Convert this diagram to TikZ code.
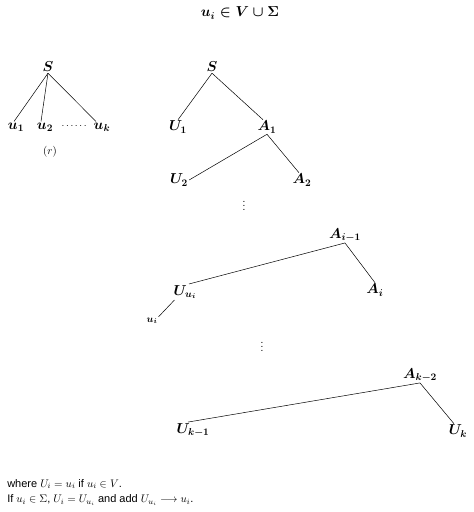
\documentclass[tikz,border=0pt]{standalone}
\usepackage{amsmath, amssymb}
\usepackage{fontspec}
\setmainfont{Liberation Sans}
\usetikzlibrary{positioning}
\tikzset{
    symnode/.style={
        inner sep=1pt,
        font=\fontsize{14}{16}\selectfont
    },
    smallnode/.style={
        inner sep=1pt,
        font=\fontsize{10}{12}\selectfont
    },
    notenode/.style={
        anchor=west,
        inner sep=0,
        font=\fontsize{11}{13}\selectfont
    }
}
\begin{document}
\begin{tikzpicture}[
                x=1pt, y=-1pt,
                line width=0.5pt
            ]
            \useasboundingbox (0,0) rectangle (474,512);
            % 标题
            \node[symnode] (title) at (240,13) {$\boldsymbol{u_i \in V \cup \Sigma}$};
            % 产生式 (r)
            \node[symnode] (S0) at (48,67) {$\boldsymbol{S}$};
            \node[symnode] (u1) at (16,127) {$\boldsymbol{u_1}$};
            \node[symnode] (u2) at (45,127) {$\boldsymbol{u_2}$};
            \node[smallnode, inner sep=0] (udots) at (75,126) {$\cdots\cdots$};
            \node[symnode] (uk) at (102,127) {$\boldsymbol{u_k}$};
            \node[smallnode, font=\fontsize{11}{13}\selectfont] (rule) at (50,152) {$(r)$};
            \draw (S0.south) -- ([xshift=-2pt]u1.north);
            \draw (S0.south) -- ([xshift=-4pt]u2.north);
            \draw (S0.south) -- ([xshift=-6pt]uk.north);
            % 展开后的树
            \node[symnode] (S) at (212,67) {$\boldsymbol{S}$};
            \node[symnode] (U1) at (178,127) {$\boldsymbol{U_1}$};
            \node[symnode] (A1) at (267,127) {$\boldsymbol{A_1}$};
            \node[symnode] (U2) at (179,180) {$\boldsymbol{U_2}$};
            \node[symnode] (A2) at (302,180) {$\boldsymbol{A_2}$};
            \node[smallnode, inner sep=0] (vdots1) at (244,203) {$\vdots$};
            \node[symnode] (Aim1) at (345,235) {$\boldsymbol{A_{i-1}}$};
            \node[symnode] (Uui) at (185,292) {$\boldsymbol{U_{u_i}}$};
            \node[symnode] (Ai) at (375,290) {$\boldsymbol{A_i}$};
            \node[smallnode] (ui) at (152,321) {$\boldsymbol{u_i}$};
            \node[smallnode, inner sep=0] (vdots2) at (262,344) {$\vdots$};
            \node[symnode] (Akm2) at (420,375) {$\boldsymbol{A_{k-2}}$};
            \node[symnode] (Ukm1) at (193,430) {$\boldsymbol{U_{k-1}}$};
            \node[symnode] (Uk) at (458,431) {$\boldsymbol{U_k}$};
            \draw (S.south) -- (U1.north);
            \draw (S.south) -- ([xshift=-4pt]A1.north);
            \draw (A1.south) -- (U2.east);
            \draw (A1.south) -- ([xshift=-3pt]A2.north);
            \draw (Aim1.south) -- ([xshift=4pt]Uui.north);
            \draw (Aim1.south) -- (Ai.north);
            \draw ([xshift=2pt]Uui.south west) -- (ui.north east);
            \draw (Akm2.south) -- ([xshift=-5pt]Ukm1.north);
            \draw (Akm2.south) -- ([xshift=-4pt]Uk.north);
            % 说明
            \node[notenode] (note1) at (7,484) {where $U_i = u_i$ if $u_i \in V$.};
            \node[notenode] (note2) at (7,500) {If $u_i \in \Sigma$, $U_i = U_{u_i}$ and add $U_{u_i} \longrightarrow u_i$.};
\end{tikzpicture}
\end{document}
